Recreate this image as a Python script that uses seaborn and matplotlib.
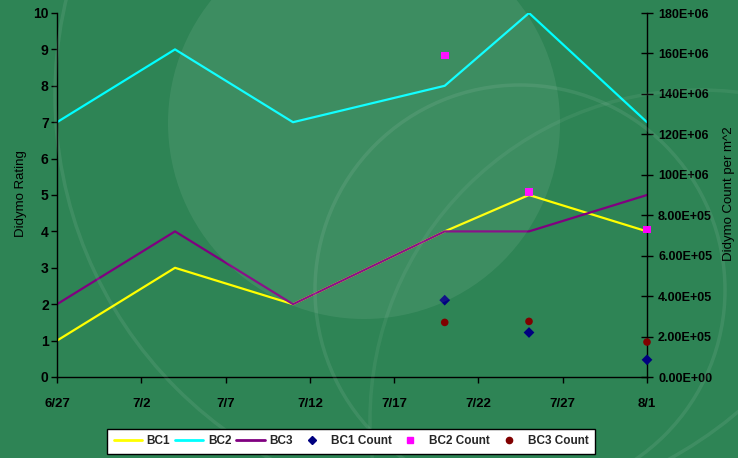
import matplotlib
matplotlib.use("Agg")
import matplotlib.pyplot as plt
from matplotlib import font_manager
from matplotlib.patches import Circle
from matplotlib.lines import Line2D
import seaborn as sns
import pandas as pd
import numpy as np

# Survey dates and didymo ratings per site
dates = ["2007-06-27", "2007-07-04", "2007-07-11", "2007-07-20", "2007-07-25", "2007-08-01"]
bc1_rating = [1, 3, 2, 4, 5, 4]
bc2_rating = [7, 9, 7, 8, 10, 7]
bc3_rating = [2, 4, 2, 4, 4, 5]

# Cell counts (per m^2) on the later visits
count_dates = ["2007-07-20", "2007-07-25", "2007-08-01"]
bc1_count = [3.8e5, 2.2e5, 0.85e5]
bc2_count = [1.59e6, 9.15e5, 7.3e5]
bc3_count = [2.7e5, 2.75e5, 1.73e5]

x_tick_labels = ["6/27", "7/2", "7/7", "7/12", "7/17", "7/22", "7/27", "8/1"]
right_tick_labels = ["0.00E+00", "2.00E+05", "4.00E+05", "6.00E+05", "8.00E+05",
                     "100E+06", "120E+06", "140E+06", "160E+06", "180E+06"]

sns.set_style("ticks")
names = {f.name for f in font_manager.fontManager.ttflist}
family = "Liberation Sans Narrow" if "Liberation Sans Narrow" in names else "Liberation Sans"
plt.rcParams["font.family"] = [family, "DejaVu Sans"]

W, H = 738, 458
fig = plt.figure(figsize=(W / 100, H / 100), dpi=100)
fig.patch.set_facecolor("#2e8455")

# Slide-style backdrop: soft light disc and faint rings (pixel coordinates)
fig.patches.append(Circle((364, H - 123), 196, transform=None, facecolor="#ffffff",
                          alpha=0.075, edgecolor="none", zorder=0))
for (cx, cy, r, a) in [(520, 290, 205, 0.08), (470, 95, 415, 0.08), (700, 420, 330, 0.06)]:
    fig.patches.append(Circle((cx, H - cy), r, transform=None, facecolor="none",
                              edgecolor="#ffffff", lw=2.5, alpha=a, zorder=0))

ax = fig.add_axes([57 / W, 1 - 377 / H, (647 - 57) / W, (377 - 13) / H])
ax.set_facecolor("none")

df = pd.DataFrame({
    "date": pd.to_datetime(dates * 3),
    "rating": bc1_rating + bc2_rating + bc3_rating,
    "site": ["BC1"] * 6 + ["BC2"] * 6 + ["BC3"] * 6,
})
line_colors = {"BC1": "#ffff00", "BC2": "#00ffff", "BC3": "#800080"}
sns.lineplot(data=df, x="date", y="rating", hue="site", palette=line_colors,
             linewidth=1.6, ax=ax, legend=False)

start = pd.Timestamp("2007-06-27")
end = pd.Timestamp("2007-08-01")
ax.set_xlim(start, end)
ax.set_ylim(0, 10)
ticks = pd.date_range(start, periods=len(x_tick_labels), freq="5D")
ax.set_xticks(ticks)
ax.set_xticklabels(x_tick_labels)
ax.set_yticks(range(0, 11))
ax.set_xlabel("")
ax.set_ylabel("")

ax2 = ax.twinx()
cdf = pd.DataFrame({
    "date": pd.to_datetime(count_dates * 3),
    "count": bc1_count + bc2_count + bc3_count,
    "site": ["BC1 Count"] * 3 + ["BC2 Count"] * 3 + ["BC3 Count"] * 3,
})
count_colors = {"BC1 Count": "#000080", "BC2 Count": "#ff00ff", "BC3 Count": "#800000"}
count_markers = {"BC1 Count": "D", "BC2 Count": "s", "BC3 Count": "o"}
sns.scatterplot(data=cdf, x="date", y="count", hue="site", style="site",
                palette=count_colors, markers=count_markers, s=30, linewidth=0,
                ax=ax2, legend=False, clip_on=False, zorder=5)
ax2.set_xlim(start, end)
ax2.set_ylim(0, 1.8e6)
ax2.set_yticks(np.arange(0, 1.8e6 + 1, 2e5))
ax2.set_yticklabels(right_tick_labels)
ax2.set_ylabel("")

# Axis titles placed in figure pixels
fig.text(21 / W, 1 - 194 / H, "Didymo Rating", rotation=90, ha="center", va="center",
         fontsize=9.5, color="black")
fig.text(729 / W, 1 - 194 / H, "Didymo Count per m^2", rotation=90, ha="center",
         va="center", fontsize=9.5, color="black")

for a in (ax, ax2):
    for s in a.spines.values():
        s.set_visible(False)
ax.spines["left"].set_visible(True)
ax.spines["bottom"].set_visible(True)
ax2.spines["right"].set_visible(True)
for sp in (ax.spines["left"], ax.spines["bottom"], ax2.spines["right"]):
    sp.set_color("black")
    sp.set_linewidth(1.0)

ax.tick_params(axis="x", direction="out", length=4, width=1, colors="black",
               labelsize=9.5, pad=11)
ax.tick_params(axis="y", direction="out", length=4, width=1, colors="black",
               labelsize=10, pad=2)
ax2.tick_params(axis="y", direction="inout", length=8, width=1, colors="black",
                labelsize=9, pad=4)
for lab in ax.get_xticklabels() + ax.get_yticklabels() + ax2.get_yticklabels():
    lab.set_fontweight("bold")

handles = [
    Line2D([], [], color="#ffff00", lw=2),
    Line2D([], [], color="#00ffff", lw=2),
    Line2D([], [], color="#800080", lw=2),
    Line2D([], [], color="#000080", marker="D", ls="none", ms=4.5),
    Line2D([], [], color="#ff00ff", marker="s", ls="none", ms=4.5),
    Line2D([], [], color="#800000", marker="o", ls="none", ms=4.5),
]
labels = ["BC1", "BC2", "BC3", "BC1 Count", "BC2 Count", "BC3 Count"]
leg = fig.legend(handles, labels, loc="center", bbox_to_anchor=(351 / W, 1 - 441.5 / H),
                 ncol=6, frameon=True, fancybox=False, fontsize=8.5,
                 handlelength=2.4, handletextpad=0.4, columnspacing=0.4,
                 borderpad=0.55, borderaxespad=0)
leg.get_frame().set_edgecolor("black")
leg.get_frame().set_facecolor("white")
leg.get_frame().set_alpha(1.0)
leg.get_frame().set_linewidth(1.0)
for t in leg.get_texts():
    t.set_fontweight("bold")

fig.savefig("out.png", dpi=100, facecolor=fig.get_facecolor())
